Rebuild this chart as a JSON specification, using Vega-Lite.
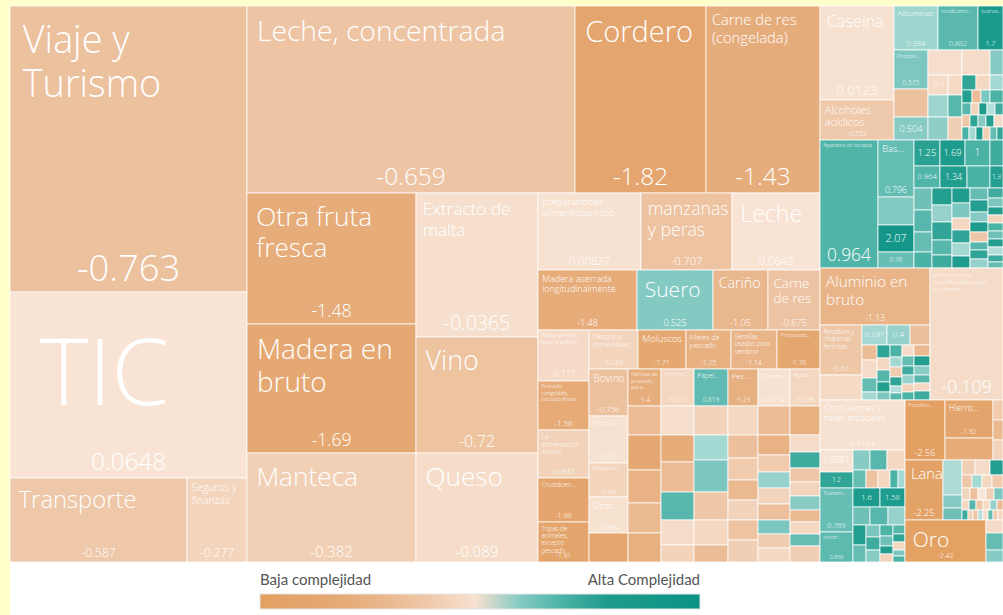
{
"$schema":"https://vega.github.io/schema/vega-lite/v6.json",
"width":993,"height":609,
"autosize":{"type":"none"},
"padding":{"left":10,"top":6,"right":0,"bottom":0},
"background":"#ffffcc",
"config":{"view":{"fill":"#ffffff","stroke":null}},
"data":{"values":[
{"p":"aa000000","v":67782,"c":-0.763,"n":"Viaje y\nTurismo","t":"-0.763"},
{"p":"ab000000","v":44082,"c":0.0648,"n":"TIC","t":"0.0648"},
{"p":"aca00000","v":14868,"c":-0.587,"n":"Transporte","t":"-0.587"},
{"p":"acb00000","v":5040,"c":-0.277,"n":"Seguros y\nfinanzas","t":"-0.277"},
{"p":"baa00000","v":61336,"c":-0.659,"n":"Leche, concentrada","t":"-0.659"},
{"p":"bab00000","v":24497,"c":-1.82,"n":"Cordero","t":"-1.82"},
{"p":"bac00000","v":21318,"c":-1.43,"n":"Carne de res\n(congelada)","t":"-1.43"},
{"p":"bbaa0000","v":22139,"c":-1.48,"n":"Otra fruta\nfresca","t":"-1.48"},
{"p":"bbab0000","v":21801,"c":-1.69,"n":"Madera en\nbruto","t":"-1.69"},
{"p":"bbac0000","v":18421,"c":-0.382,"n":"Manteca","t":"-0.382"},
{"p":"bbba0000","v":17568,"c":-0.0365,"n":"Extracto de\nmalta","t":"-0.0365"},
{"p":"bbbb0000","v":14152,"c":-0.72,"n":"Vino","t":"-0.72"},
{"p":"bbbc0000","v":13298,"c":-0.089,"n":"Queso","t":"-0.089"},
{"p":"bbcaa000","v":7931,"c":0.00827,"n":"preparaciones\nalimenticias ncop","t":"0.00827"},
{"p":"bbcab000","v":7007,"c":-0.707,"n":"manzanas\ny peras","t":"-0.707"},
{"p":"bbcac000","v":6776,"c":0.0648,"n":"Leche","t":"0.0648"},
{"p":"bbcba000","v":5940,"c":-1.48,"n":"Madera aserrada\nlongitudinalmente","t":"-1.48"},
{"p":"bbcbb000","v":4560,"c":0.525,"n":"Suero","t":"0.525"},
{"p":"bbcbc000","v":3300,"c":-1.05,"n":"Cariño","t":"-1.05"},
{"p":"bbcbd000","v":3120,"c":-0.675,"n":"Carne\nde res","t":"-0.675"},
{"p":"bbccaa00","v":2601,"c":-0.117,"n":"Pulpa química,\nsoda o sulfato","t":"-0.117"},
{"p":"bbccab00","v":2499,"c":-1.56,"n":"Pescado\ncongelado,\nexcepto filetes","t":"-1.56"},
{"p":"bbccac00","v":2448,"c":-0.337,"n":"La\nalimentación\nanimal","t":"-0.337"},
{"p":"bbccad00","v":2244,"c":-1.98,"n":"Crustáceo...","t":"-1.98"},
{"p":"bbccae00","v":2040,"c":-1.91,"n":"Tripas de\nanimales,\nexcepto\npescado","t":"-1.91"},
{"p":"bbccbaa0","v":1911,"c":-0.288,"n":"Despojos\ncomestibles","t":"-0.288"},
{"p":"bbccbab0","v":1872,"c":-1.71,"n":"Moluscos","t":"-1.71"},
{"p":"bbccbac0","v":1755,"c":-1.25,"n":"Filetes de\npescado","t":"-1.25"},
{"p":"bbccbad0","v":1794,"c":-1.14,"n":"Semillas\nusadas para\nsembrar","t":"-1.14"},
{"p":"bbccbae0","v":1677,"c":-1.76,"n":"Preparado...","t":"-1.76"},
{"p":"bbccbbaa","v":1833,"c":-0.756,"n":"Bovino","t":"-0.756"},
{"p":"bbccbbab","v":1833,"c":0.0311,"n":"Fiberbo...","t":"0.0311"},
{"p":"bbccbbac","v":1326,"c":-0.257,"n":"Panadería...","t":"-0.257"},
{"p":"bbccbbad","v":1404,"c":0.00384,"n":"Otro...","t":"0.00384"},
{"p":"bbccbbae","v":1131,"c":-1.8},
{"p":"bbccbbba","v":1221,"c":-1.4,"n":"Harinas de\npescado,\npara...","t":"-1.4"},
{"p":"bbccbbbb","v":957,"c":-0.9},
{"p":"bbccbbbc","v":1155,"c":-1.7},
{"p":"bbccbbbd","v":1089,"c":-1.2},
{"p":"bbccbbbe","v":990,"c":-1.0},
{"p":"bbccbbbf","v":957,"c":-1.3},
{"p":"bbccbbca","v":1221,"c":-0.211,"n":"Fermen...","t":"-0.211"},
{"p":"bbccbbcb","v":957,"c":-0.05},
{"p":"bbccbbcc","v":891,"c":-1.5},
{"p":"bbccbbcd","v":990,"c":-0.9},
{"p":"bbccbbce","v":924,"c":0.9},
{"p":"bbccbbcf","v":825,"c":-0.1},
{"p":"bbccbbcg","v":561,"c":-0.3},
{"p":"bbccbbda","v":1258,"c":0.819,"n":"Papel...","t":"0.819"},
{"p":"bbccbbdb","v":986,"c":-0.3},
{"p":"bbccbbdc","v":850,"c":0.3},
{"p":"bbccbbdd","v":1088,"c":0.6},
{"p":"bbccbbde","v":952,"c":-0.6},
{"p":"bbccbbdf","v":850,"c":-0.2},
{"p":"bbccbbdg","v":578,"c":-0.9},
{"p":"bbccbbea","v":1110,"c":-1.29,"n":"Pez...","t":"-1.29"},
{"p":"bbccbbeb","v":870,"c":-0.2},
{"p":"bbccbbec","v":690,"c":-0.8},
{"p":"bbccbbed","v":660,"c":-0.5},
{"p":"bbccbbee","v":600,"c":-1.0},
{"p":"bbccbbef","v":600,"c":-0.3},
{"p":"bbccbbeg","v":600,"c":-0.7},
{"p":"bbccbbeh","v":660,"c":-0.4},
{"p":"bbccbbfa","v":1184,"c":0.0114,"n":"Caballos","t":"0.0114"},
{"p":"bbccbbfb","v":928,"c":-0.9},
{"p":"bbccbbfc","v":640,"c":-1.2},
{"p":"bbccbbfd","v":544,"c":-0.5},
{"p":"bbccbbfe","v":512,"c":0.4},
{"p":"bbccbbff","v":512,"c":-0.3},
{"p":"bbccbbfg","v":512,"c":-0.8},
{"p":"bbccbbfh","v":448,"c":0.6},
{"p":"bbccbbfi","v":448,"c":-0.5},
{"p":"bbccbbfj","v":448,"c":-0.2},
{"p":"bbccbbga","v":1110,"c":-0.226,"n":"Aguas...","t":"-0.226"},
{"p":"bbccbbgb","v":870,"c":-1.3},
{"p":"bbccbbgc","v":510,"c":-0.1},
{"p":"bbccbbgd","v":480,"c":1.1},
{"p":"bbccbbge","v":420,"c":-0.6},
{"p":"bbccbbgf","v":420,"c":-0.3},
{"p":"bbccbbgg","v":420,"c":0.5},
{"p":"bbccbbgh","v":360,"c":-1.0},
{"p":"bbccbbgi","v":360,"c":-0.2},
{"p":"bbccbbgj","v":360,"c":0.8},
{"p":"bbccbbgk","v":480,"c":-0.4},
{"p":"caaa0000","v":6956,"c":0.0123,"n":"Caseína","t":"0.0123"},
{"p":"caab0000","v":2960,"c":-0.552,"n":"Alcoholes\nacíclicos","t":"-0.552"},
{"p":"cabaa000","v":1936,"c":0.334,"n":"Albúminas","t":"0.334"},
{"p":"cabab000","v":1760,"c":0.882,"n":"medicame...","t":"0.882"},
{"p":"cabac000","v":1100,"c":1.7,"n":"butros...","t":"1.7"},
{"p":"cabbaa00","v":1326,"c":0.575,"n":"Peptón...","t":"0.575"},
{"p":"cabbab00","v":952,"c":-0.75},
{"p":"cabbac00","v":782,"c":0.504,"t":"0.504"},
{"p":"cabbbaa0","v":850,"c":-0.05},
{"p":"cabbbba0","v":400,"c":-0.1,"t":"-0.1"},
{"p":"cabbbbb0","v":280,"c":-0.15},
{"p":"cabbbca0","v":440,"c":0.35},
{"p":"cabbbcb0","v":308,"c":0.9},
{"p":"cabbbda0","v":460,"c":0.45},
{"p":"cabbbdb0","v":322,"c":-0.4},
{"p":"cabbcaa0","v":700,"c":-0.1},
{"p":"cabbcab0","v":325,"c":0.5},
{"p":"cabbcba0","v":210,"c":1.2},
{"p":"cabbcbb0","v":210,"c":-0.2},
{"p":"cabbcbc0","v":195,"c":0.3},
{"p":"cabbcca0","v":130,"c":1.3},
{"p":"cabbccb0","v":117,"c":-0.9},
{"p":"cabbccc0","v":117,"c":0.6},
{"p":"cabbccd0","v":169,"c":1.0},
{"p":"cabbcda0","v":108,"c":0.9},
{"p":"cabbcdb0","v":96,"c":-0.3},
{"p":"cabbcdc0","v":96,"c":1.4},
{"p":"cabbcdd0","v":96,"c":0.2},
{"p":"cabbcde0","v":96,"c":1.1},
{"p":"cabbcea0","v":96,"c":-0.6},
{"p":"cabbceb0","v":96,"c":1.2},
{"p":"cabbcec0","v":96,"c":0.5},
{"p":"cabbced0","v":96,"c":1.3},
{"p":"cabbcee0","v":108,"c":-0.1},
{"p":"cabbcfa0","v":91,"c":1.0},
{"p":"cabbcfb0","v":91,"c":0.3},
{"p":"cabbcfc0","v":91,"c":1.5},
{"p":"cabbcfd0","v":91,"c":-0.4},
{"p":"cabbcfe0","v":91,"c":0.8},
{"p":"cabbcff0","v":78,"c":1.2},
{"p":"cba00000","v":7424,"c":0.964,"n":"Aparatos de terapia","t":"0.964"},
{"p":"cbba0000","v":2052,"c":0.796,"n":"Bas...","t":"0.796"},
{"p":"cbbb0000","v":1008,"c":0.55},
{"p":"cbbc0000","v":972,"c":2.07,"t":"2.07"},
{"p":"cbbd0000","v":576,"c":0.76,"t":"0.76"},
{"p":"cbcaa000","v":676,"c":1.25,"t":"1.25"},
{"p":"cbcab000","v":650,"c":1.69,"t":"1.69"},
{"p":"cbcac000","v":650,"c":1,"t":"1"},
{"p":"cbcad000","v":338,"c":1.1},
{"p":"cbcba000","v":572,"c":0.964,"t":"0.964"},
{"p":"cbcbb000","v":594,"c":1.34,"t":"1.34"},
{"p":"cbcbc000","v":506,"c":1.0},
{"p":"cbcbd000","v":286,"c":1.3,"t":"1.3"},
{"p":"cbccaa00","v":396,"c":0.7},
{"p":"cbccab00","v":396,"c":0.9},
{"p":"cbccac00","v":360,"c":0.8},
{"p":"cbccad00","v":288,"c":1.0},
{"p":"cbccba00","v":340,"c":1.3},
{"p":"cbccbb00","v":340,"c":0.4},
{"p":"cbccbc00","v":360,"c":1.2},
{"p":"cbccbd00","v":300,"c":0.9},
{"p":"cbccbe00","v":260,"c":1.1},
{"p":"cbccca00","v":270,"c":1.4},
{"p":"cbcccb00","v":270,"c":0.6},
{"p":"cbcccc00","v":216,"c":-0.2},
{"p":"cbcccd00","v":234,"c":1.2},
{"p":"cbccce00","v":234,"c":0.3},
{"p":"cbcccf00","v":216,"c":1.5},
{"p":"cbccda00","v":216,"c":0.8},
{"p":"cbccdb00","v":216,"c":1.3},
{"p":"cbccdc00","v":180,"c":0.5},
{"p":"cbccdd00","v":180,"c":1.6},
{"p":"cbccde00","v":180,"c":-0.6},
{"p":"cbccdf00","v":144,"c":0.9},
{"p":"cbccdg00","v":162,"c":1.2},
{"p":"cbccdh00","v":162,"c":0.4},
{"p":"cbccea00","v":150,"c":1.1},
{"p":"cbcceb00","v":135,"c":0.6},
{"p":"cbccec00","v":120,"c":1.4},
{"p":"cbcced00","v":120,"c":-0.3},
{"p":"cbccee00","v":120,"c":1.0},
{"p":"cbccef00","v":120,"c":0.7},
{"p":"cbcceg00","v":120,"c":1.3},
{"p":"cbcceh00","v":120,"c":0.2},
{"p":"cbccei00","v":105,"c":1.1},
{"p":"cbccej00","v":90,"c":0.8},
{"p":"ccaa0000","v":6270,"c":-1.13,"n":"Aluminio en\nbruto","t":"-1.13"},
{"p":"ccabaa00","v":2100,"c":-0.61,"n":"Residuos y\nchatarras\nferrosas","t":"-0.61"},
{"p":"ccabab00","v":1050,"c":-0.15},
{"p":"ccabbaa0","v":500,"c":0.297,"t":"0.297"},
{"p":"ccabbab0","v":460,"c":0.4,"t":"0.4"},
{"p":"ccabbac0","v":400,"c":-0.8},
{"p":"ccabbbaa","v":225,"c":-0.9},
{"p":"ccabbbab","v":270,"c":-0.1},
{"p":"ccabbbac","v":210,"c":0.8},
{"p":"ccabbbad","v":120,"c":0.3},
{"p":"ccabbbba","v":169,"c":1.2},
{"p":"ccabbbbb","v":156,"c":-0.2},
{"p":"ccabbbbc","v":156,"c":0.9},
{"p":"ccabbbbd","v":130,"c":1.3},
{"p":"ccabbbbe","v":104,"c":0.6},
{"p":"ccabbbca","v":144,"c":1.0},
{"p":"ccabbbcb","v":120,"c":0.3},
{"p":"ccabbbcc","v":120,"c":-0.5},
{"p":"ccabbbcd","v":108,"c":1.2},
{"p":"ccabbbce","v":84,"c":0.2},
{"p":"ccabbbcf","v":84,"c":0.9},
{"p":"ccabbbda","v":132,"c":-0.1},
{"p":"ccabbbdb","v":120,"c":0.8},
{"p":"ccabbbdc","v":108,"c":1.1},
{"p":"ccabbbdd","v":108,"c":0.4},
{"p":"ccabbbde","v":96,"c":-0.3},
{"p":"ccabbbdf","v":96,"c":1.0},
{"p":"ccabbbea","v":176,"c":-1.0},
{"p":"ccabbbeb","v":160,"c":1.3},
{"p":"ccabbbec","v":144,"c":0.5},
{"p":"ccabbbed","v":128,"c":0.9},
{"p":"ccabbbee","v":128,"c":-0.2},
{"p":"ccabbbef","v":144,"c":1.1},
{"p":"ccb00000","v":9636,"c":-0.109,"n":"Mercancías no\nespecificadas según\nsu especie","t":"-0.109"},
{"p":"cdaa0000","v":4250,"c":0.0189,"n":"Otros aviones y\nnaves espaciales","t":"0.0189"},
{"p":"cdabaa00","v":726,"c":0.0597,"t":"0.0597"},
{"p":"cdabab00","v":528,"c":1.2,"t":"1.2"},
{"p":"cdabac00","v":1452,"c":0.769,"n":"Transm...","t":"0.769"},
{"p":"cdabad00","v":990,"c":0.856,"n":"electr...","t":"0.856"},
{"p":"cdabbaa0","v":340,"c":0.5},
{"p":"cdabbab0","v":340,"c":0.9},
{"p":"cdabbac0","v":360,"c":-0.2},
{"p":"cdabbba0","v":234,"c":0.8},
{"p":"cdabbbb0","v":216,"c":-0.7},
{"p":"cdabbbc0","v":216,"c":-0.2},
{"p":"cdabbbd0","v":144,"c":1.0},
{"p":"cdabbbe0","v":126,"c":0.3},
{"p":"cdabbca0","v":513,"c":1.6,"t":"1.6"},
{"p":"cdabbcb0","v":475,"c":1.58,"t":"1.58"},
{"p":"cdabbda0","v":306,"c":0.7},
{"p":"cdabbdb0","v":324,"c":0.9},
{"p":"cdabbdc0","v":306,"c":0.4},
{"p":"cdabbeaa","v":260,"c":1.3},
{"p":"cdabbeab","v":221,"c":0.8},
{"p":"cdabbeba","v":168,"c":0.6},
{"p":"cdabbebb","v":182,"c":1.1},
{"p":"cdabbebc","v":168,"c":0.5},
{"p":"cdabbeca","v":143,"c":1.0},
{"p":"cdabbecb","v":130,"c":0.7},
{"p":"cdabbecc","v":104,"c":1.4},
{"p":"cdabbecd","v":104,"c":-0.3},
{"p":"cdabbeda","v":108,"c":0.9},
{"p":"cdabbedb","v":96,"c":1.2},
{"p":"cdabbedc","v":96,"c":-0.2},
{"p":"cdabbedd","v":72,"c":0.6},
{"p":"cdabbede","v":72,"c":1.0},
{"p":"cdbaa000","v":2400,"c":-2.56,"n":"Petróleo...","t":"-2.56"},
{"p":"cdbaba00","v":1824,"c":-1.92,"n":"Hierro...","t":"-1.92"},
{"p":"cdbabb00","v":1056,"c":-1.5},
{"p":"cdbaca00","v":200,"c":-0.5},
{"p":"cdbacb00","v":200,"c":-1.0},
{"p":"cdbacc00","v":200,"c":-0.3},
{"p":"cdbba000","v":2280,"c":-2.25,"n":"Lana","t":"-2.25"},
{"p":"cdbbba00","v":665,"c":0.25},
{"p":"cdbbbb00","v":247,"c":0.5},
{"p":"cdbbbc00","v":228,"c":0.7},
{"p":"cdbbcaa0","v":195,"c":-0.4},
{"p":"cdbbcab0","v":225,"c":-0.1},
{"p":"cdbbcac0","v":195,"c":1.3},
{"p":"cdbbcba0","v":130,"c":-0.6},
{"p":"cdbbcbb0","v":130,"c":0.3},
{"p":"cdbbcbc0","v":130,"c":-0.2},
{"p":"cdbbcbd0","v":143,"c":-0.5},
{"p":"cdbbcca0","v":96,"c":-0.3},
{"p":"cdbbccb0","v":96,"c":-0.8},
{"p":"cdbbccc0","v":96,"c":0.1},
{"p":"cdbbccd0","v":96,"c":-0.4},
{"p":"cdbbcce0","v":108,"c":0.6},
{"p":"cdbbcda0","v":70,"c":-0.2},
{"p":"cdbbcdb0","v":70,"c":0.9},
{"p":"cdbbcdc0","v":70,"c":-0.6},
{"p":"cdbbcdd0","v":70,"c":-0.1},
{"p":"cdbbcde0","v":70,"c":0.4},
{"p":"cdbbcdf0","v":60,"c":-0.9},
{"p":"cdbbcea0","v":60,"c":1.1},
{"p":"cdbbceb0","v":50,"c":-0.3},
{"p":"cdbbcec0","v":50,"c":-0.7},
{"p":"cdbbced0","v":50,"c":0.2},
{"p":"cdbbcee0","v":50,"c":-0.1},
{"p":"cdbbcef0","v":50,"c":0.8},
{"p":"cdbbceg0","v":50,"c":-0.5},
{"p":"cdbbceh0","v":50,"c":-0.2},
{"p":"cdbca000","v":3402,"c":-2.42,"n":"Oro","t":"-2.42"},
{"p":"cdbcba00","v":221,"c":-0.1},
{"p":"cdbcbb00","v":289,"c":0.8},
{"p":"cdbcbc00","v":204,"c":0.5}
]},
"transform":[
{"calculate":"substring(datum.p,0,1)","as":"q1"},
{"calculate":"substring(datum.p,0,2)","as":"q2"},
{"calculate":"substring(datum.p,0,3)","as":"q3"},
{"calculate":"substring(datum.p,0,4)","as":"q4"},
{"calculate":"substring(datum.p,0,5)","as":"q5"},
{"calculate":"substring(datum.p,0,6)","as":"q6"},
{"calculate":"substring(datum.p,0,7)","as":"q7"},
{"stack":"v","groupby":[],"sort":[{"field":"p","order":"ascending"}],"offset":"normalize","as":["a1","b1"]},
{"joinaggregate":[{"op":"min","field":"a1","as":"A1"},{"op":"max","field":"b1","as":"B1"}],"groupby":["q1"]},
{"stack":"v","groupby":["q1"],"sort":[{"field":"p","order":"ascending"}],"offset":"normalize","as":["a2","b2"]},
{"joinaggregate":[{"op":"min","field":"a2","as":"A2"},{"op":"max","field":"b2","as":"B2"}],"groupby":["q2"]},
{"stack":"v","groupby":["q2"],"sort":[{"field":"p","order":"ascending"}],"offset":"normalize","as":["a3","b3"]},
{"joinaggregate":[{"op":"min","field":"a3","as":"A3"},{"op":"max","field":"b3","as":"B3"}],"groupby":["q3"]},
{"stack":"v","groupby":["q3"],"sort":[{"field":"p","order":"ascending"}],"offset":"normalize","as":["a4","b4"]},
{"joinaggregate":[{"op":"min","field":"a4","as":"A4"},{"op":"max","field":"b4","as":"B4"}],"groupby":["q4"]},
{"stack":"v","groupby":["q4"],"sort":[{"field":"p","order":"ascending"}],"offset":"normalize","as":["a5","b5"]},
{"joinaggregate":[{"op":"min","field":"a5","as":"A5"},{"op":"max","field":"b5","as":"B5"}],"groupby":["q5"]},
{"stack":"v","groupby":["q5"],"sort":[{"field":"p","order":"ascending"}],"offset":"normalize","as":["a6","b6"]},
{"joinaggregate":[{"op":"min","field":"a6","as":"A6"},{"op":"max","field":"b6","as":"B6"}],"groupby":["q6"]},
{"stack":"v","groupby":["q6"],"sort":[{"field":"p","order":"ascending"}],"offset":"normalize","as":["a7","b7"]},
{"joinaggregate":[{"op":"min","field":"a7","as":"A7"},{"op":"max","field":"b7","as":"B7"}],"groupby":["q7"]},
{"stack":"v","groupby":["q7"],"sort":[{"field":"p","order":"ascending"}],"offset":"normalize","as":["a8","b8"]},
{"calculate":"datum.A1+datum.A3*(datum.B1-datum.A1)","as":"xa3"},
{"calculate":"datum.A1+datum.B3*(datum.B1-datum.A1)","as":"xb3"},
{"calculate":"datum.A2+datum.A4*(datum.B2-datum.A2)","as":"ya4"},
{"calculate":"datum.A2+datum.B4*(datum.B2-datum.A2)","as":"yb4"},
{"calculate":"datum.xa3+datum.A5*(datum.xb3-datum.xa3)","as":"xa5"},
{"calculate":"datum.xa3+datum.B5*(datum.xb3-datum.xa3)","as":"xb5"},
{"calculate":"datum.ya4+datum.A6*(datum.yb4-datum.ya4)","as":"ya6"},
{"calculate":"datum.ya4+datum.B6*(datum.yb4-datum.ya4)","as":"yb6"},
{"calculate":"993*(datum.xa5+datum.A7*(datum.xb5-datum.xa5))","as":"x0"},
{"calculate":"993*(datum.xa5+datum.B7*(datum.xb5-datum.xa5))","as":"x1"},
{"calculate":"556*(datum.ya6+datum.a8*(datum.yb6-datum.ya6))","as":"y0"},
{"calculate":"556*(datum.ya6+datum.b8*(datum.yb6-datum.ya6))","as":"y1"},
{"calculate":"datum.x1-datum.x0","as":"w"},
{"calculate":"datum.y1-datum.y0","as":"h"},
{"calculate":"datum.n ? datum.n : ''","as":"nn"},
{"calculate":"datum.t ? datum.t : ''","as":"tt"},
{"calculate":"split(datum.nn,'\\n')","as":"ls"},
{"calculate":"length(datum.ls)","as":"nl"},
{"calculate":"max(length(datum.ls[0]||''),length(datum.ls[1]||''),length(datum.ls[2]||''),length(datum.ls[3]||''),1)","as":"ml"},
{"calculate":"max(5.5,(datum.ml<=3 && datum.nl==1) ? min(0.5*datum.h,1.55*datum.w/datum.ml) : min(1.55*datum.w/datum.ml,4.5*pow(datum.h,0.376),0.75*datum.h/(datum.nl+0.8)))","as":"fsN"},
{"calculate":"datum.x0+0.3*datum.fsN+1.5","as":"nx"},
{"calculate":"datum.y0+0.42*datum.fsN+1","as":"ny"},
{"calculate":"datum.nn!='' ? max(5,min(0.12*datum.h+2,1.8*datum.w/max(1,length(datum.tt)))) : max(5,min(0.4*datum.h,1.5*datum.w/max(1,length(datum.tt))))","as":"fsV"},
{"calculate":"(datum.x0+datum.x1)/2","as":"vx"},
{"calculate":"datum.nn!='' ? datum.y1-0.55*datum.fsV-2 : (datum.y0+datum.y1)/2","as":"vy"}
],
"layer":[
{"mark":{"type":"rect","stroke":"#ffffff","strokeWidth":1,"strokeOpacity":0.75},
 "encoding":{
  "x":{"field":"x0","type":"quantitative","scale":{"domain":[0,993],"nice":false,"zero":false},"axis":null},
  "x2":{"field":"x1"},
  "y":{"field":"y0","type":"quantitative","scale":{"domain":[0,609],"nice":false,"zero":false,"reverse":true},"axis":null},
  "y2":{"field":"y1"},
  "color":{"field":"c","type":"quantitative",
   "scale":{"type":"linear","domain":[-2.5,-1.8,-1.2,-0.76,-0.4,0.1,0.11,0.5,0.95,1.3,2.6],"range":["#e3a062","#e4a66e","#e8b284","#ecc19e","#f1cfb4","#f8e5d6","#c0e4df","#87cbc4","#52b5aa","#239e8f","#0a9384"],"interpolate":"rgb","clamp":true},
   "legend":{"orient":"none","legendX":250,"legendY":588,"direction":"horizontal","gradientLength":440,"gradientThickness":15,"title":null,"values":[-2.5,2.6],"labelExpr":"datum.value < 0 ? 'Baja complejidad' : 'Alta Complejidad'","labelOffset":-36,"labelFont":"Lato","labelFontSize":15,"labelColor":"#555555","labelOverlap":false,"gradientStrokeColor":"#e6e6e6","gradientStrokeWidth":1,"padding":0}}
 }},
{"transform":[{"filter":"datum.nn != ''"}],
 "mark":{"type":"text","align":"left","baseline":"top","font":"Open Sans","fontWeight":300,"color":"#ffffff","lineBreak":"\n","lineHeight":{"expr":"datum.fsN*1.18"}},
 "encoding":{
  "x":{"field":"nx","type":"quantitative","scale":{"domain":[0,993],"nice":false,"zero":false},"axis":null},
  "y":{"field":"ny","type":"quantitative","scale":{"domain":[0,609],"nice":false,"zero":false,"reverse":true},"axis":null},
  "text":{"field":"nn"},
  "size":{"field":"fsN","type":"quantitative","scale":null}
 }},
{"transform":[{"filter":"datum.tt != ''"}],
 "mark":{"type":"text","align":"center","baseline":"middle","font":"Open Sans","fontWeight":300,"color":"#ffffff"},
 "encoding":{
  "x":{"field":"vx","type":"quantitative","scale":{"domain":[0,993],"nice":false,"zero":false},"axis":null},
  "y":{"field":"vy","type":"quantitative","scale":{"domain":[0,609],"nice":false,"zero":false,"reverse":true},"axis":null},
  "text":{"field":"tt"},
  "size":{"field":"fsV","type":"quantitative","scale":null}
 }}
]
}
